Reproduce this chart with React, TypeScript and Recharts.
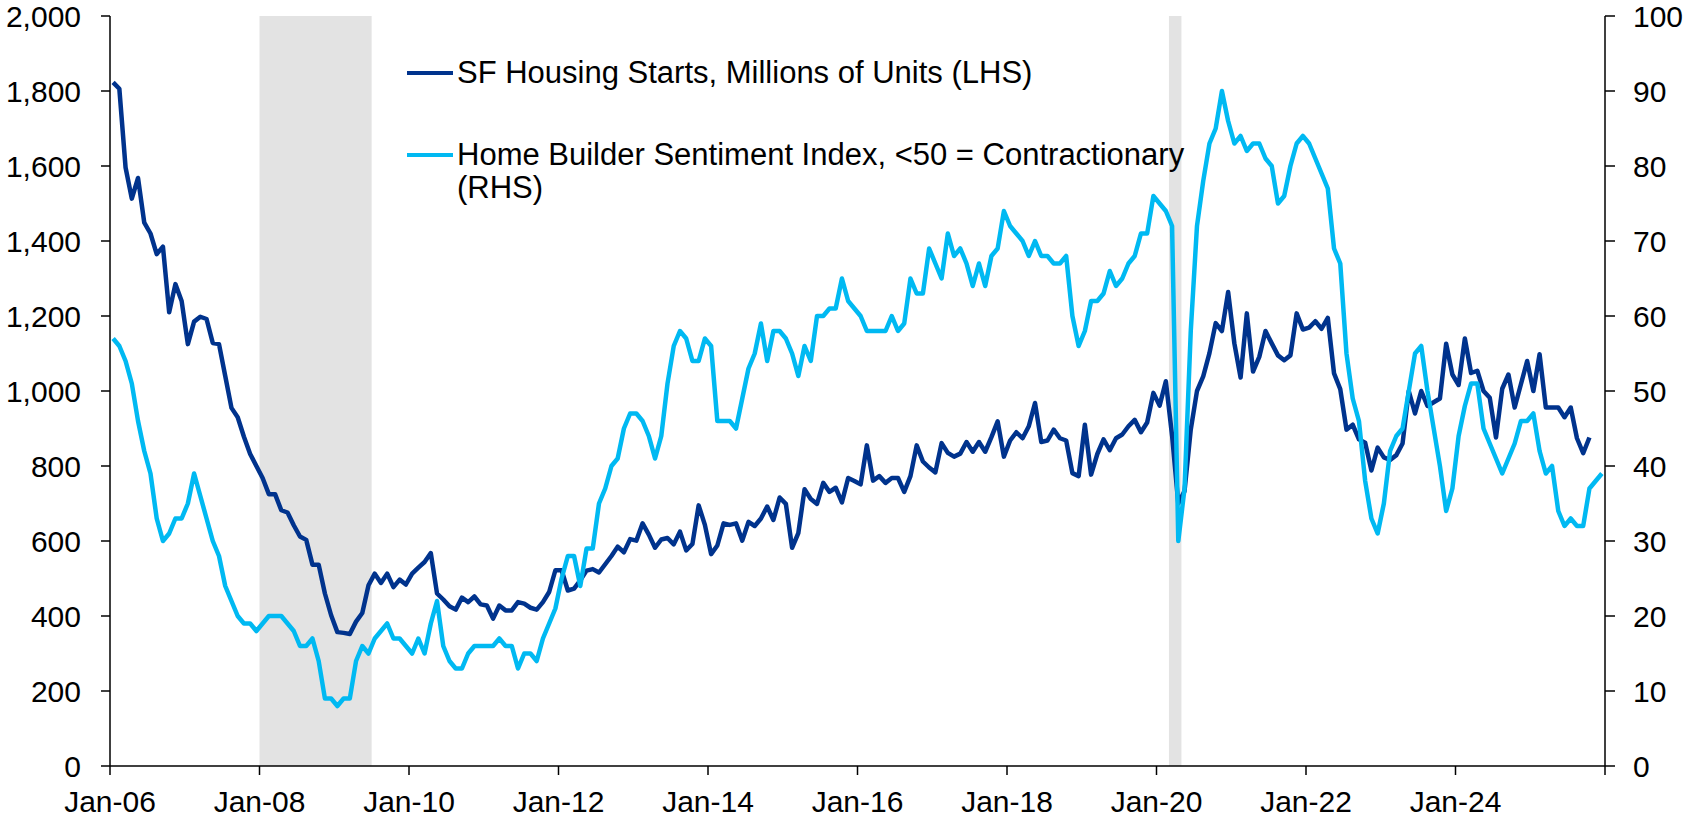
import React from "react";
import {
  LineChart,
  Line,
  XAxis,
  YAxis,
  ReferenceArea,
  Legend,
} from "recharts";

// SF housing starts, thousands SAAR, Jan-06 .. Oct-25
const sfStarts: number[] = [
  1823, 1806, 1596, 1513, 1568, 1449, 1420, 1365, 1385, 1210, 1285, 1240, // 2006
  1125, 1185, 1198, 1192, 1128, 1125, 1040, 955, 930, 878, 832, 800, // 2007
  768, 725, 725, 682, 676, 642, 612, 603, 537, 537, 460, 402, // 2008
  357, 355, 352, 385, 408, 482, 513, 488, 513, 477, 497, 484, // 2009
  513, 529, 544, 568, 460, 444, 426, 417, 449, 437, 452, 431, // 2010
  428, 393, 428, 415, 415, 437, 433, 422, 417, 437, 464, 522, // 2011
  522, 468, 473, 495, 521, 525, 516, 538, 560, 585, 570, 605, // 2012
  601, 647, 617, 582, 604, 608, 591, 625, 575, 592, 695, 643, // 2013
  565, 588, 647, 643, 647, 601, 651, 640, 660, 692, 656, 716, // 2014
  699, 582, 621, 738, 712, 699, 755, 731, 742, 703, 768, 760, // 2015
  751, 855, 761, 773, 755, 768, 768, 731, 773, 855, 812, 796, // 2016
  783, 861, 835, 825, 833, 864, 838, 864, 838, 877, 919, 825, // 2017
  868, 890, 874, 906, 968, 864, 868, 897, 874, 868, 781, 773, // 2018
  910, 777, 832, 871, 842, 874, 884, 906, 923, 890, 916, 995, // 2019
  961, 1026, 881, 700, 733, 897, 1000, 1039, 1101, 1181, 1160, 1264, // 2020
  1127, 1036, 1207, 1052, 1091, 1160, 1127, 1095, 1082, 1095, 1207, 1164, // 2021
  1169, 1186, 1166, 1195, 1047, 1005, 897, 910, 871, 862, 788, 849, // 2022
  823, 816, 829, 860, 1000, 940, 1000, 960, 970, 980, 1126, 1044, // 2023
  1016, 1140, 1048, 1054, 1000, 982, 876, 1006, 1044, 956, 1018, 1080, // 2024
  1000, 1098, 956, 956, 956, 930, 956, 874, 834, 876, // 2025
];

// NAHB home builder sentiment index, Jan-06 .. Dec-25
const builderSentiment: number[] = [
  57, 56, 54, 51, 46, 42, 39, 33, 30, 31, 33, 33, // 2006
  35, 39, 36, 33, 30, 28, 24, 22, 20, 19, 19, 18, // 2007
  19, 20, 20, 20, 19, 18, 16, 16, 17, 14, 9, 9, // 2008
  8, 9, 9, 14, 16, 15, 17, 18, 19, 17, 17, 16, // 2009
  15, 17, 15, 19, 22, 16, 14, 13, 13, 15, 16, 16, // 2010
  16, 16, 17, 16, 16, 13, 15, 15, 14, 17, 19, 21, // 2011
  25, 28, 28, 24, 29, 29, 35, 37, 40, 41, 45, 47, // 2012
  47, 46, 44, 41, 44, 51, 56, 58, 57, 54, 54, 57, // 2013
  56, 46, 46, 46, 45, 49, 53, 55, 59, 54, 58, 58, // 2014
  57, 55, 52, 56, 54, 60, 60, 61, 61, 65, 62, 61, // 2015
  60, 58, 58, 58, 58, 60, 58, 59, 65, 63, 63, 69, // 2016
  67, 65, 71, 68, 69, 67, 64, 67, 64, 68, 69, 74, // 2017
  72, 71, 70, 68, 70, 68, 68, 67, 67, 68, 60, 56, // 2018
  58, 62, 62, 63, 66, 64, 65, 67, 68, 71, 71, 76, // 2019
  75, 74, 72, 30, 37, 58, 72, 78, 83, 85, 90, 86, // 2020
  83, 84, 82, 83, 83, 81, 80, 75, 76, 80, 83, 84, // 2021
  83, 81, 79, 77, 69, 67, 55, 49, 46, 38, 33, 31, // 2022
  35, 42, 44, 45, 50, 55, 56, 50, 45, 40, 34, 37, // 2023
  44, 48, 51, 51, 45, 43, 41, 39, 41, 43, 46, 46, // 2024
  47, 42, 39, 40, 34, 32, 33, 32, 32, 37, 38, 39, // 2025
];

const firstYear = 2006;
const xTicks = [2006, 2008, 2010, 2012, 2014, 2016, 2018, 2020, 2022, 2024, 2026];
const leftTicks = [0, 200, 400, 600, 800, 1000, 1200, 1400, 1600, 1800, 2000];
const rightTicks = [0, 10, 20, 30, 40, 50, 60, 70, 80, 90, 100];

const STARTS_NAME = "SF Housing Starts, Millions of Units (LHS)";
const HMI_NAME = "Home Builder Sentiment Index, <50 = Contractionary (RHS)";
const legendOrder = [STARTS_NAME, HMI_NAME];

// recession shading, as decimal years (Jan-08..Jun-09, Mar-20..Apr-20)
const recessions = [
  { start: 2008, end: 2009.5 },
  { start: 2020 + 2 / 12, end: 2020 + 4 / 12 },
];

const DARK = "#00338D";
const LIGHT = "#00B9F2";
const FONT = "'Liberation Sans', Arial, Helvetica, sans-serif";

// each month sits mid-way between its start and the next month's start
const data = builderSentiment.map((v, i) => ({
  t: firstYear + (i + 0.5) / 12,
  hmi: v,
  starts: i < sfStarts.length ? sfStarts[i] : null,
}));

const tickStyle = { fontSize: 30, fill: "#000", fontFamily: FONT };

function formatMonth(year: number) {
  if (year >= 2026) return "";
  return `Jan-${String(year % 100).padStart(2, "0")}`;
}

function ChartLegend({ payload }: any) {
  const items = [...(payload || [])].sort(
    (a: any, b: any) => legendOrder.indexOf(a.value) - legendOrder.indexOf(b.value)
  );
  return (
    <div style={{ fontFamily: FONT, fontSize: 31, color: "#000", lineHeight: "33px" }}>
      {items.map((entry: any, idx: number) => (
        <div
          key={entry.value}
          style={{ display: "flex", alignItems: "flex-start", marginBottom: idx === 0 ? 49 : 0 }}
        >
          <div
            style={{
              width: 46,
              height: 4,
              marginTop: 15,
              marginRight: 4,
              background: entry.color,
              flex: "none",
            }}
          />
          <div style={{ width: 760 }}>{entry.value}</div>
        </div>
      ))}
    </div>
  );
}

export default function App() {
  return (
    <div style={{ position: "absolute", left: 0, top: 0, background: "#fff" }}>
      <LineChart
        width={1685}
        height={818}
        data={data}
        margin={{ top: 16, right: 0, bottom: 0, left: 0 }}
        style={{ fontFamily: FONT }}
      >
        {recessions.map((r) => (
          <ReferenceArea
            key={r.start}
            yAxisId="left"
            x1={r.start}
            x2={r.end}
            y1={0}
            y2={2000}
            fill="#E3E3E3"
            fillOpacity={1}
            stroke="none"
          />
        ))}
        <XAxis
          dataKey="t"
          type="number"
          domain={[2006, 2026]}
          ticks={xTicks}
          interval={0}
          tickFormatter={formatMonth}
          height={52}
          tickSize={9}
          tickMargin={16}
          tick={tickStyle}
          axisLine={{ stroke: "#000", strokeWidth: 1.5 }}
          tickLine={{ stroke: "#000", strokeWidth: 1.5 }}
          allowDataOverflow
        />
        <YAxis
          yAxisId="left"
          domain={[0, 2000]}
          ticks={leftTicks}
          interval={0}
          width={110}
          tickSize={9}
          tickMargin={20}
          tick={tickStyle}
          tickFormatter={(v: number) => v.toLocaleString("en-US")}
          axisLine={{ stroke: "#000", strokeWidth: 1.5 }}
          tickLine={{ stroke: "#000", strokeWidth: 1.5 }}
        />
        <YAxis
          yAxisId="right"
          orientation="right"
          domain={[0, 100]}
          ticks={rightTicks}
          interval={0}
          width={80}
          tickSize={10}
          tickMargin={18}
          tick={tickStyle}
          axisLine={{ stroke: "#000", strokeWidth: 1.5 }}
          tickLine={{ stroke: "#000", strokeWidth: 1.5 }}
        />
        <Legend
          layout="vertical"
          align="center"
          verticalAlign="middle"
          wrapperStyle={{ top: 56, left: 407, width: 820 }}
          content={<ChartLegend />}
        />
        <Line
          yAxisId="left"
          type="linear"
          dataKey="starts"
          name={STARTS_NAME}
          stroke={DARK}
          strokeWidth={4.5}
          strokeLinejoin="round"
          dot={false}
          isAnimationActive={false}
        />
        <Line
          yAxisId="right"
          type="linear"
          dataKey="hmi"
          name={HMI_NAME}
          stroke={LIGHT}
          strokeWidth={4.5}
          strokeLinejoin="round"
          dot={false}
          isAnimationActive={false}
        />
      </LineChart>
    </div>
  );
}
